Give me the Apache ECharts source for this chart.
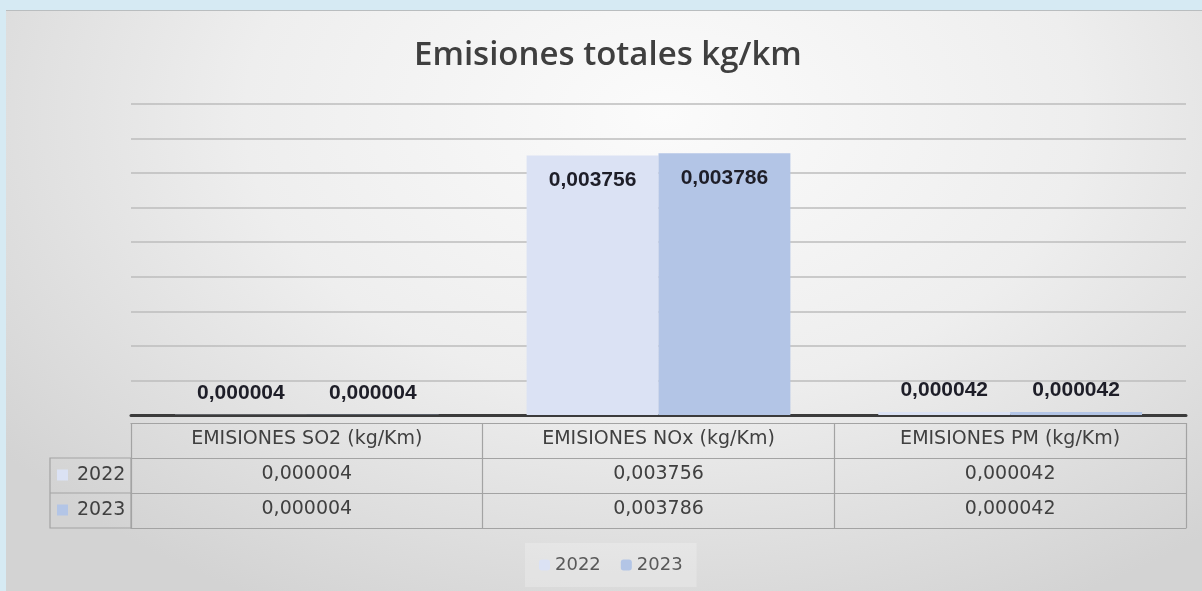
<!DOCTYPE html>
<html>
<head>
<meta charset="utf-8">
<script src="https://cdn.jsdelivr.net/npm/echarts@6/dist/echarts.min.js"></script>
<style>
  html, body { margin: 0; padding: 0; }
  body { width: 1202px; height: 591px; background: #d6eaf3; position: relative; overflow: hidden; }
  #chart {
    position: absolute; left: 6px; top: 10px; width: 1196px; height: 581px;
    border-top: 1px solid #b9bdbf; box-sizing: border-box;
    background: radial-gradient(ellipse 70% 95% at 55% 18%, #fbfbfb 0%, #eeeeee 50%, #d3d3d3 100%);
  }
</style>
</head>
<body>
<div id="chart"></div>
<script>
var categories = ['EMISIONES SO2 (kg/Km)', 'EMISIONES NOx (kg/Km)', 'EMISIONES PM (kg/Km)'];
var years = ['2022', '2023'];
var values2022 = [0.000004, 0.003756, 0.000042];
var values2023 = [0.000004, 0.003786, 0.000042];
var yMax = 0.0045;
var yStep = 0.0005;

var colors = ['#dbe2f4', '#b3c5e6'];

// layout del grafico (px dentro del div)
var gridLeft = 125, gridRight = 16, gridTop = 93, gridBottom = 176;
var rowH = 35;
var tableOffset = 8;

function fmt(v) {
  return v.toFixed(6).replace('.', ',');
}

function barData(vals) {
  return vals.map(function (v) {
    var big = v > yMax / 4;
    return {
      value: v,
      label: big ? { position: 'insideTop', distance: 14 } : { position: 'top', distance: 11 }
    };
  });
}

var tableFont = { fontFamily: 'DejaVu Sans', fontSize: 19, color: '#404040' };
var tableLine = { color: '#a3a3a3', width: 1.2 };

function tableAxis(offset, formatter, showTicks) {
  return {
    type: 'category',
    gridIndex: 0,
    position: 'bottom',
    offset: offset,
    data: categories,
    axisLine: { show: true, lineStyle: tableLine },
    axisTick: { show: showTicks, length: rowH, interval: 0, lineStyle: tableLine },
    axisLabel: Object.assign({ show: !!formatter, margin: 7, interval: 0, formatter: formatter }, tableFont),
    splitLine: { show: false }
  };
}

var chart = echarts.init(document.getElementById('chart'));

var labelStyle = {
  show: true,
  fontFamily: 'Liberation Sans',
  fontWeight: 'bold',
  fontSize: 21,
  color: '#1e1e28',
  formatter: function (p) { return fmt(p.value); }
};

var option = {
  title: {
    text: 'Emisiones totales kg/km',
    left: 403,
    top: 23,
    textStyle: { fontFamily: 'Open Sans', fontWeight: 600, fontSize: 33, color: '#3f3f3f' }
  },
  legend: {
    data: years,
    left: 519,
    top: 532,
    itemWidth: 11,
    itemHeight: 11,
    itemGap: 20,
    padding: [13, 14],
    backgroundColor: 'rgba(255,255,255,0.22)',
    textStyle: { fontFamily: 'DejaVu Sans', fontSize: 18, color: '#595959' }
  },
  grid: { left: gridLeft, right: gridRight, top: gridTop, bottom: gridBottom },
  xAxis: [
    {
      type: 'category',
      data: categories,
      axisLine: { lineStyle: { color: '#3b3b3b', width: 3 } },
      axisTick: { show: false },
      axisLabel: { show: false }
    },
    tableAxis(tableOffset, function (v) { return v; }, true),
    tableAxis(tableOffset + rowH, function (v, i) { return fmt(values2022[i]); }, true),
    tableAxis(tableOffset + rowH * 2, function (v, i) { return fmt(values2023[i]); }, true),
    tableAxis(tableOffset + rowH * 3, null, false)
  ],
  yAxis: {
    type: 'value',
    min: 0,
    max: yMax,
    interval: yStep,
    axisLabel: { show: false },
    axisLine: { show: false },
    axisTick: { show: false },
    splitLine: { lineStyle: { color: '#bcbcbc', width: 1.5 } }
  },
  series: [
    {
      name: years[0],
      type: 'bar',
      data: barData(values2022),
      itemStyle: { color: colors[0] },
      barGap: '0%',
      barCategoryGap: '25%',
      label: labelStyle
    },
    {
      name: years[1],
      type: 'bar',
      data: barData(values2023),
      itemStyle: { color: colors[1] },
      barGap: '0%',
      barCategoryGap: '25%',
      label: labelStyle
    }
  ]
};

chart.setOption(option);

// columna de encabezados de fila de la tabla (a la izquierda del grid)
var plotBottom = chart.getHeight() - gridBottom;
var rowTop = plotBottom + tableOffset + rowH;
var colLeft = 44;
var graphics = [
  {
    type: 'rect',
    shape: { x: colLeft, y: rowTop, width: gridLeft - colLeft, height: rowH * 2 },
    style: { fill: 'none', stroke: tableLine.color, lineWidth: tableLine.width }
  },
  {
    type: 'line',
    shape: { x1: colLeft, y1: rowTop + rowH, x2: gridLeft, y2: rowTop + rowH },
    style: { stroke: tableLine.color, lineWidth: tableLine.width }
  }
];
years.forEach(function (y, i) {
  var cy = rowTop + rowH * i + rowH / 2;
  graphics.push({
    type: 'rect',
    shape: { x: colLeft + 7, y: cy - 6, width: 11, height: 11 },
    style: { fill: colors[i] }
  });
  graphics.push({
    type: 'text',
    x: colLeft + 27,
    y: cy,
    style: {
      text: y, fill: tableFont.color, font: '19px "DejaVu Sans"',
      verticalAlign: 'middle', align: 'left'
    }
  });
});
chart.setOption({ graphic: graphics });
</script>
</body>
</html>
